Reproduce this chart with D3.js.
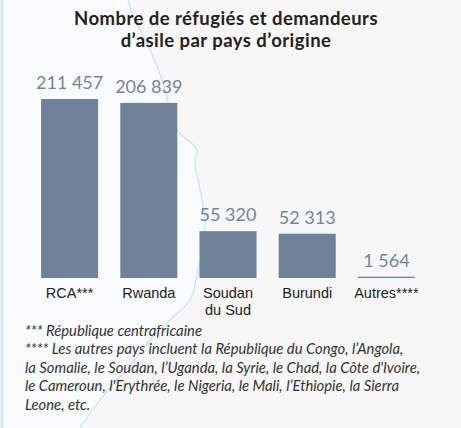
<!DOCTYPE html>
<html lang="fr">
<head>
<meta charset="utf-8">
<title>Réfugiés par pays d'origine</title>
<script src="https://d3js.org/d3.v7.min.js"></script>
<style>
  body { margin: 0; background: #f7f7f7; }
  svg { display: block; font-family: Lato, sans-serif; }
</style>
</head>
<body>
<svg id="chart"></svg>
<script>
const countries = ["RCA***", "Rwanda", "Soudan|du Sud", "Burundi", "Autres****"];
const refugees = [211457, 206839, 55320, 52313, 1564];
const valueLabels = ["211 457", "206 839", "55 320", "52 313", "1 564"];
const titleLines = ["Nombre de réfugiés et demandeurs", "d’asile par pays d’origine"];
const notes = [
  "*** République centrafricaine",
  "**** Les autres pays incluent la République du Congo, l’Angola,",
  "la Somalie, le Soudan, l’Uganda, la Syrie, le Chad, la Côte d'Ivoire,",
  "le Cameroun, l'Erythrée, le Nigeria, le Mali, l’Ethiopie, la Sierra",
  "Leone, etc."
];

const width = 461, height = 428;
const baseY = 278;
const barColor = "#6f8299";

const svg = d3.select("#chart").attr("width", width).attr("height", height);

svg.append("rect").attr("width", width).attr("height", height).attr("fill", "#f7f7f7");

// faint map border in the background (decoration only)
const border = [[128,0],[134,18],[147,43],[163,83],[172,118],[178,131],[197,150],[195,162],
  [200,190],[205,220],[202,250],[197,275],[190,300],[170,320],[150,340],[135,360],
  [117,380],[100,400],[80,428]];
const borderLine = d3.line().curve(d3.curveCatmullRom);
svg.append("path")
  .attr("d", borderLine([[0,0]].concat(border, [[0,428]])) + "Z")
  .attr("fill", "#f9fbfd");
svg.append("path")
  .attr("d", borderLine(border))
  .attr("fill", "none").attr("stroke", "#c6e0f1").attr("stroke-width", 1.2);
svg.append("line").attr("x1", 2).attr("x2", 2).attr("y1", 0).attr("y2", height)
  .attr("stroke", "#dbe7f1").attr("stroke-width", 3);

// title
svg.append("text")
  .attr("text-anchor", "middle")
  .attr("font-weight", "bold").attr("font-size", 18.5).attr("letter-spacing", 0.45).attr("fill", "#222")
  .selectAll("tspan").data(titleLines).join("tspan")
  .attr("x", 226).attr("y", (d, i) => 24.8 + i * 22.3).text(d => d);

const x = d3.scaleBand().domain(countries).range([30, 426]).paddingInner(0.28).paddingOuter(0.14);
const y = d3.scaleLinear().domain([0, 211457]).range([baseY, 99]);

svg.selectAll(".bar").data(refugees).join("rect")
  .attr("class", "bar")
  .attr("x", (d, i) => x(countries[i]))
  .attr("width", x.bandwidth())
  .attr("y", d => Math.min(y(d), baseY - 1))
  .attr("height", d => Math.max(baseY - y(d), 1))
  .attr("fill", barColor);

svg.selectAll(".val").data(refugees).join("text")
  .attr("class", "val")
  .attr("x", (d, i) => x(countries[i]) + x.bandwidth() / 2)
  .attr("y", d => Math.min(y(d), baseY - 1) - 10)
  .attr("text-anchor", "middle").attr("font-size", 18).attr("fill", "#7285a0")
  .text((d, i) => valueLabels[i]);

const xAxis = svg.append("g").attr("transform", `translate(0,${baseY})`)
  .call(d3.axisBottom(x).tickSize(0).tickFormat(""));
xAxis.select(".domain").remove();
xAxis.selectAll(".tick").each(function (d) {
  const t = d3.select(this).append("text")
    .attr("text-anchor", "middle").attr("font-size", 14.5).attr("fill", "#222");
  d.split("|").forEach((line, i) => {
    t.append("tspan").attr("x", 0).attr("y", 20 + i * 17).text(line);
  });
});

svg.append("g").selectAll("text").data(notes).join("text")
  .attr("x", 25).attr("y", (d, i) => 336 + i * 18.4)
  .attr("font-style", "italic").attr("font-size", 14.8).attr("fill", "#333")
  .text(d => d);
</script>
</body>
</html>
